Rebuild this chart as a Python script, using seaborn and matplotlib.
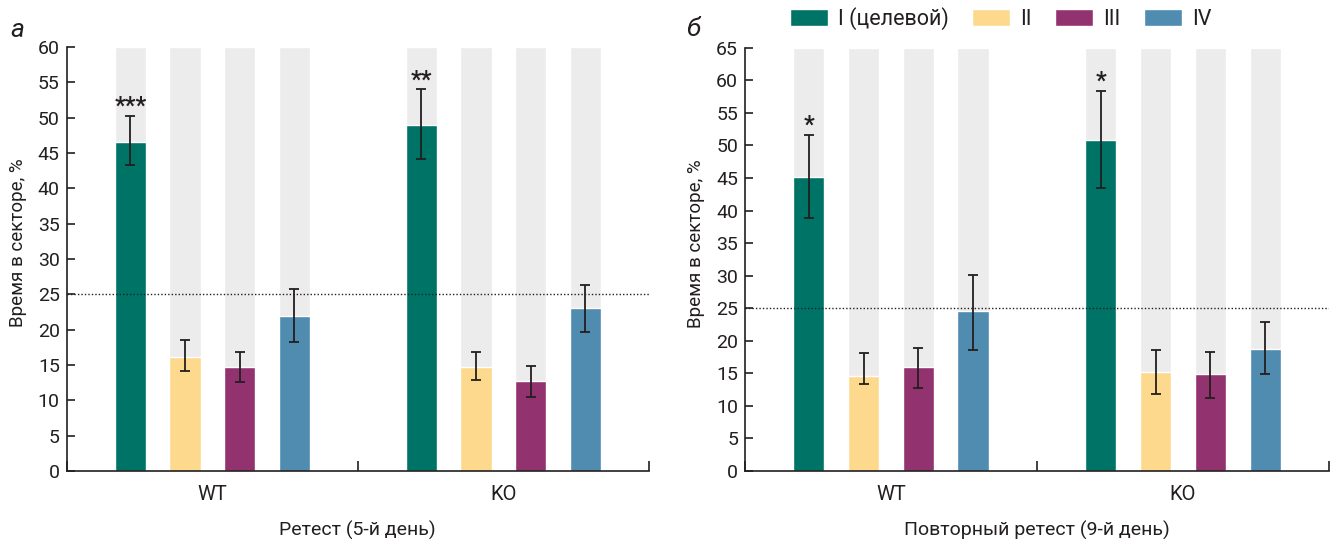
import numpy as np
import pandas as pd
import matplotlib
matplotlib.use("Agg")
import matplotlib.pyplot as plt
import seaborn as sns

groups = ["WT", "KO"]
sectors = ["I (целевой)", "II", "III", "IV"]
colors = ["#007367", "#fdd98d", "#92336f", "#508bb0"]

# а: Ретест (5-й день), order WT I..IV, KO I..IV
a_mean = [46.5, 16.1, 14.7, 21.9, 48.9, 14.7, 12.7, 23.1]
a_low = [43.3, 14.2, 12.6, 18.2, 44.2, 12.9, 10.5, 19.7]
a_high = [50.3, 18.5, 16.8, 25.7, 54.0, 16.8, 14.8, 26.3]
a_stars = ["***", "", "", "", "**", "", "", ""]

# б: Повторный ретест (9-й день)
b_mean = [45.1, 14.6, 16.0, 24.5, 50.9, 15.2, 14.9, 18.8]
b_low = [38.8, 13.3, 12.8, 18.6, 43.5, 11.8, 11.2, 14.9]
b_high = [51.6, 18.1, 18.9, 30.1, 58.4, 18.6, 18.3, 22.9]
b_stars = ["*", "", "", "", "*", "", "", ""]

sns.set_style("ticks")
plt.rcParams["font.family"] = ["Roboto", "DejaVu Sans"]
plt.rcParams["text.color"] = "#231f20"
plt.rcParams["axes.labelcolor"] = "#231f20"
INK = "#231f20"


def draw_panel(ax, mean, low, high, stars, ymax, xlabel, legend):
    df = pd.DataFrame({
        "group": np.repeat(groups, 4),
        "sector": sectors * 2,
        "value": mean,
        "full": [ymax] * 8,
    })
    # grey backdrop columns
    sns.barplot(data=df, x="group", y="full", hue="sector", hue_order=sectors,
                palette=["#ececec"] * 4, saturation=1, width=0.75, gap=0.43,
                errorbar=None, legend=False, ax=ax, zorder=0)
    n_bg = len(ax.containers)
    sns.barplot(data=df, x="group", y="value", hue="sector", hue_order=sectors,
                palette=colors, saturation=1, width=0.75, gap=0.43,
                errorbar=None, legend=legend, ax=ax, zorder=1)
    bars = [p for c in ax.containers[n_bg:] for p in c.patches]
    bars = sorted(bars, key=lambda p: p.get_x())
    xs = [p.get_x() + p.get_width() / 2 for p in bars]
    m = np.array(mean)
    yerr = [m - np.array(low), np.array(high) - m]
    ax.errorbar(xs, m, yerr=yerr, fmt="none", ecolor=INK, elinewidth=1.3,
                capsize=3.5, capthick=1.3, zorder=3)
    for x, h, s in zip(xs, high, stars):
        if s:
            ax.annotate(s, (x, h), xytext=(0, -1.5), textcoords="offset points",
                        ha="center", va="bottom", fontsize=17,
                        fontweight="bold", color=INK)
    ax.axhline(25, ls=(0, (1, 1.5)), color=INK, lw=1.0, zorder=4)

    ax.set_xlim(-0.5, 1.5)
    ax.set_ylim(0, ymax)
    ax.set_yticks(np.arange(0, ymax + 1, 5))
    ax.set_xticks([-0.5, 0.5, 1.5], minor=True)
    ax.tick_params(axis="x", which="major", length=0, pad=10, labelsize=14.5)
    ax.tick_params(axis="x", which="minor", direction="in", length=7, width=1.2)
    ax.tick_params(axis="y", direction="in", length=6, width=1.2, pad=5, labelsize=14)
    ax.set_ylabel("Время в секторе, %", fontsize=13.5)
    ax.yaxis.set_label_coords(-0.068, 0.538)
    ax.set_xlabel(xlabel, fontsize=14, labelpad=12)
    for sp in ["top", "right"]:
        ax.spines[sp].set_visible(False)
    for sp in ["left", "bottom"]:
        ax.spines[sp].set_linewidth(1.2)
        ax.spines[sp].set_color(INK)
    ax.tick_params(colors=INK, which="both")


fig = plt.figure(figsize=(13.35, 5.42), dpi=100)
ax1 = fig.add_axes([0.05, 0.131, 0.436, 0.7823])
ax2 = fig.add_axes([0.558, 0.131, 0.4375, 0.781])

draw_panel(ax1, a_mean, a_low, a_high, a_stars, 60, "Ретест (5-й день)", False)
draw_panel(ax2, b_mean, b_low, b_high, b_stars, 65, "Повторный ретест (9-й день)", True)

sns.move_legend(ax2, "center left", bbox_to_anchor=(0.077, 1.069), ncol=4,
                frameon=False, title=None, fontsize=15.5, handlelength=1.77,
                handleheight=0.86, handletextpad=0.45, columnspacing=1.1,
                borderpad=0, borderaxespad=0)

fig.text(0.0075, 0.932, "а", fontsize=19, style="italic", color=INK, va="baseline")
fig.text(0.514, 0.934, "б", fontsize=19, style="italic", color=INK, va="baseline")

fig.savefig("out.png", dpi=100)
